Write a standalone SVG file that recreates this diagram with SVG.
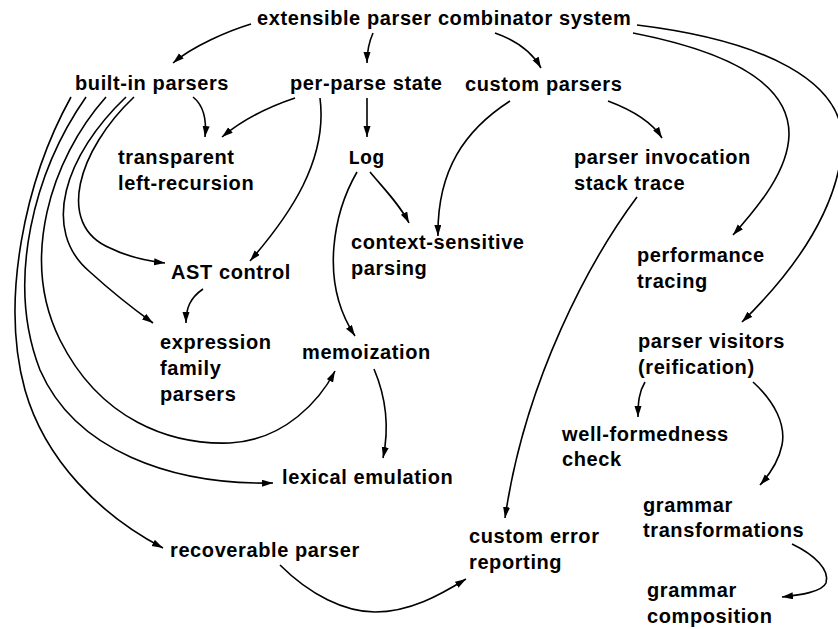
<svg xmlns="http://www.w3.org/2000/svg" width="838" height="629" viewBox="0 0 838 629">
<style>
  .t { font-family: "Liberation Sans", Arial, Helvetica, sans-serif; font-weight: bold; font-size: 20px; letter-spacing: 0.6px; fill: #000; }
  .m { font-family: "Liberation Mono", "Courier New", monospace; font-weight: bold; font-size: 20px; fill: #000; }
  .e { fill: none; stroke: #000; stroke-width: 1.6; marker-end: url(#ah); }
</style>
<defs>
  <marker id="ah" markerUnits="userSpaceOnUse" markerWidth="12" markerHeight="8" refX="11" refY="3.5" orient="auto">
    <path d="M0,0 L11,3.5 L0,7 z" fill="#000"/>
  </marker>
</defs>
<rect width="838" height="629" fill="#fff"/>
<g id="connectors">
  <path class="e" d="M251,24 C228,31 193,46 173,63"/>
  <path class="e" d="M373,33 C369,42 367,50 367,63"/>
  <path class="e" d="M495,33 C515,40 532,52 541,68"/>
  <path class="e" d="M633,33 C720,50 790,80 789,135 C788,170 760,205 733,235"/>
  <path class="e" d="M637,25 C760,40 850,80 842,150 C835,215 790,275 742,322"/>
  <path class="e" d="M193,97 C203,105 207,118 205,137"/>
  <path class="e" d="M295,98 C265,108 240,122 222,137"/>
  <path class="e" d="M367,98 L367,137"/>
  <path class="e" d="M320,98 C328,160 290,215 250,261"/>
  <path class="e" d="M510,101 C465,130 437,170 438,236"/>
  <path class="e" d="M608,101 C632,110 652,122 662,138"/>
  <path class="e" d="M370,172 C385,190 400,205 409,223"/>
  <path class="e" d="M357,172 C335,210 318,280 355,336"/>
  <path class="e" d="M203,289 C190,298 186,308 186,323"/>
  <path class="e" d="M374,369 C385,395 390,425 383,458"/>
  <path class="e" d="M637,197 C590,260 525,380 505,518"/>
  <path class="e" d="M645,382 C639,392 638,402 638,417"/>
  <path class="e" d="M753,382 C775,402 786,425 782,445 C779,460 770,474 760,485"/>
  <path class="e" d="M792,544 C815,555 830,570 826,583 C822,592 800,595 782,597"/>
  <path class="e" d="M280,565 C310,595 345,612 375,612 C410,612 440,595 466,579"/>
  <path class="e" d="M134,97 C78,150 55,225 110,248 C128,257 148,261 165,263"/>
  <path class="e" d="M126,97 C65,155 40,230 90,272 C112,292 135,310 153,323"/>
  <path class="e" d="M106,97 C50,160 20,260 60,340 C100,420 170,445 230,443 C285,440 320,400 335,371"/>
  <path class="e" d="M86,97 C35,170 5,280 40,370 C75,450 170,485 273,483"/>
  <path class="e" d="M71,97 C25,180 0,300 25,390 C45,460 100,515 163,548"/>
</g>
<g id="system"><text class="t" x="257" y="25">extensible parser combinator system</text></g>
<g id="builtin"><text class="t" x="75" y="90">built-in parsers</text></g>
<g id="perparse"><text class="t" x="290" y="90">per-parse state</text></g>
<g id="custom"><text class="t" x="465" y="91">custom parsers</text></g>
<g id="transparent"><text class="t" x="118" y="164"><tspan x="118">transparent</tspan><tspan x="118" y="190">left-recursion</tspan></text></g>
<g id="log"><text class="m" x="348" y="164">Log</text></g>
<g id="invocation"><text class="t" x="574" y="164"><tspan x="574">parser invocation</tspan><tspan x="574" y="190">stack trace</tspan></text></g>
<g id="context"><text class="t" x="351" y="249"><tspan x="351">context-sensitive</tspan><tspan x="351" y="275">parsing</tspan></text></g>
<g id="ast"><text class="t" x="171" y="279">AST control</text></g>
<g id="performance"><text class="t" x="637" y="262"><tspan x="637">performance</tspan><tspan x="637" y="288">tracing</tspan></text></g>
<g id="visitors"><text class="t" x="638" y="348"><tspan x="638">parser visitors</tspan><tspan x="638" y="374">(reification)</tspan></text></g>
<g id="expression"><text class="t" x="160" y="349"><tspan x="160">expression</tspan><tspan x="160" y="375">family</tspan><tspan x="160" y="401">parsers</tspan></text></g>
<g id="memoization"><text class="t" x="302" y="359">memoization</text></g>
<g id="wellformed"><text class="t" x="562" y="441"><tspan x="562">well-formedness</tspan><tspan x="562" y="466">check</tspan></text></g>
<g id="lexical"><text class="t" x="282" y="484">lexical emulation</text></g>
<g id="transformations"><text class="t" x="643" y="512"><tspan x="643">grammar</tspan><tspan x="643" y="537">transformations</tspan></text></g>
<g id="recoverable"><text class="t" x="170" y="557">recoverable parser</text></g>
<g id="errorreport"><text class="t" x="469" y="543"><tspan x="469">custom error</tspan><tspan x="469" y="569">reporting</tspan></text></g>
<g id="composition"><text class="t" x="647" y="597"><tspan x="647">grammar</tspan><tspan x="647" y="623">composition</tspan></text></g>
</svg>
